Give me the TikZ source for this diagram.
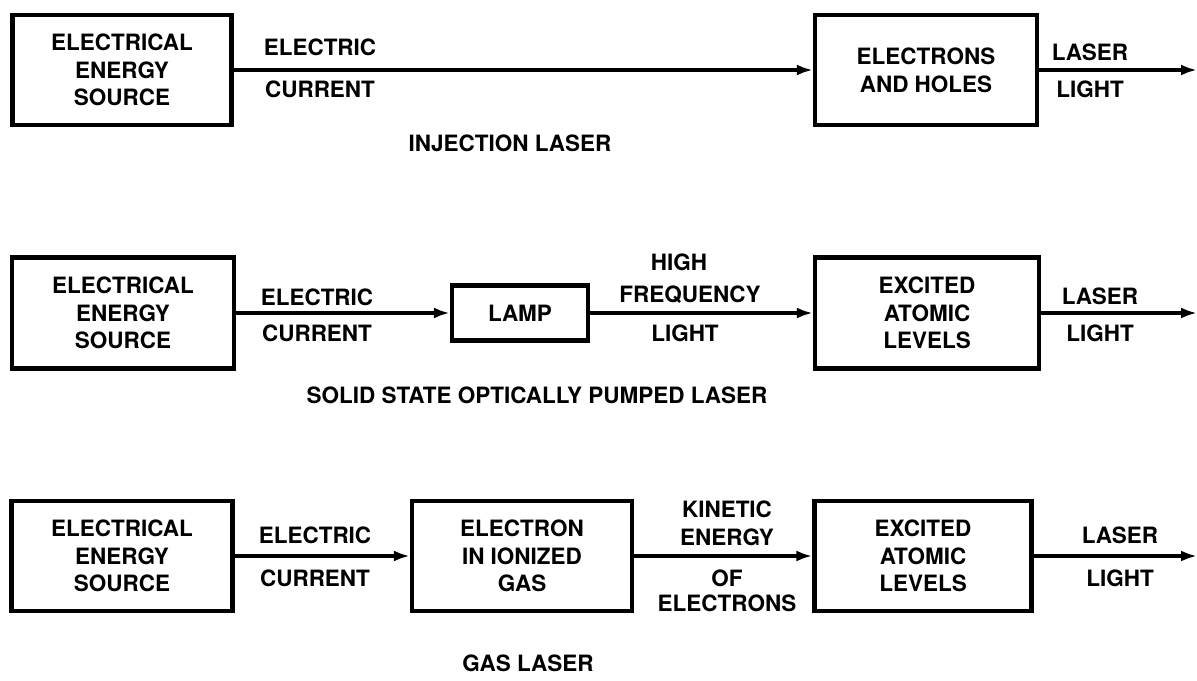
\documentclass[tikz,border=0pt]{standalone}
\usepackage{fontspec}
\setmainfont{TeX Gyre Heros}
\usetikzlibrary{arrows.meta}
\newcommand{\capsfont}{\fontsize{12.8}{15.8}\selectfont\bfseries}
\tikzset{
  block/.style={draw,line width=2.5pt,align=center,font=\capsfont,inner sep=2pt},
  tag/.style={font=\capsfont,inner sep=1pt},
  flow/.style={line width=2.1pt,-{Latex[length=0.32cm,width=0.22cm]}}
}

\begin{document}
\begin{tikzpicture}[x=0.02cm,y=-0.02cm]
\useasboundingbox (0,0) rectangle (1197,680);
% ================= row 1 =================
% ---------- injection laser ----------
\node[block,minimum width=4.38cm,minimum height=2.2cm] (srcA) at (122,70) {ELECTRICAL\\ENERGY\\SOURCE};
\node[block,minimum width=4.44cm,minimum height=2.2cm] (holes) at (926,70) {ELECTRONS\\AND HOLES};
\coordinate (endA) at (1197,70);
\draw[flow] (srcA) -- (holes);
\draw[flow] (holes) -- (endA);
\node[tag] (ecA) at (320,47) {ELECTRIC};
\node[tag] (ccA) at (320,89) {CURRENT};
\node[tag] (lsA) at (1090,52) {LASER};
\node[tag] (lgA) at (1090,89) {LIGHT};
\node[tag] (capA) at (510,143) {INJECTION LASER};
% ================= row 2 =================
% ---------- solid state optically pumped laser ----------
\node[block,minimum width=4.44cm,minimum height=2.22cm] (srcB) at (123,313) {ELECTRICAL\\ENERGY\\SOURCE};
\node[block,minimum width=2.72cm,minimum height=1.1cm] (lamp) at (520,313) {LAMP};
\node[block,minimum width=4.48cm,minimum height=2.22cm] (levB) at (927,313) {EXCITED\\ATOMIC\\LEVELS};
\coordinate (endB) at (1197,313);
\draw[flow] (srcB) -- (lamp);
\draw[flow] (lamp) -- (levB);
\draw[flow] (levB) -- (endB);
\node[tag] (ecB) at (317,297) {ELECTRIC};
\node[tag] (ccB) at (317,333) {CURRENT};
\node[tag] (hiB) at (679,262) {HIGH};
\node[tag] (frB) at (690,295) {FREQUENCY};
\node[tag] (lhB) at (685,333) {LIGHT};
\node[tag] (lsB) at (1100,296) {LASER};
\node[tag] (lgB) at (1100,333) {LIGHT};
\node[tag] (capB) at (537,395) {SOLID STATE OPTICALLY PUMPED LASER};
% ================= row 3 =================
% ---------- gas laser ----------
\node[block,minimum width=4.42cm,minimum height=2.2cm] (srcC) at (122,556) {ELECTRICAL\\ENERGY\\SOURCE};
\node[block,minimum width=4.4cm,minimum height=2.2cm] (gas) at (522,556) {ELECTRON\\IN IONIZED\\GAS};
\node[block,minimum width=4.34cm,minimum height=2.2cm] (levC) at (923,556) {EXCITED\\ATOMIC\\LEVELS};
\coordinate (endC) at (1197,556);
\draw[flow] (srcC) -- (gas);
\draw[flow] (gas) -- (levC);
\draw[flow] (levC) -- (endC);
\node[tag] (ecC) at (315,535) {ELECTRIC};
\node[tag] (ccC) at (315,578) {CURRENT};
\node[tag] (knC) at (727,509) {KINETIC};
\node[tag] (enC) at (727,537) {ENERGY};
\node[tag] (ofC) at (727,578) {OF};
\node[tag] (elC) at (727,603) {ELECTRONS};
\node[tag] (lsC) at (1120,535) {LASER};
\node[tag] (lgC) at (1120,578) {LIGHT};
\node[tag] (capC) at (528,663) {GAS LASER};
\end{tikzpicture}
\end{document}
